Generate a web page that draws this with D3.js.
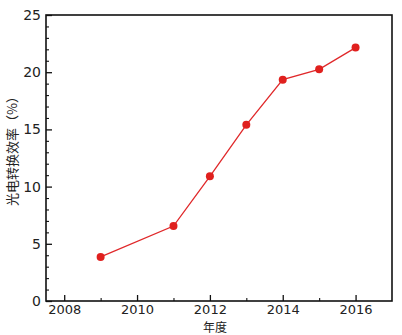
<!DOCTYPE html>
<html lang="zh">
    <head>
        <meta charset="utf-8">
        <title>光电转换效率</title>
        <script src="https://cdn.jsdelivr.net/npm/d3@7"></script>
        <style>
            body { margin: 0; background: #fff; }
        </style>
    </head>
    <body>
        <script>
            // data
            var years = [2009, 2011, 2012, 2013, 2014, 2015, 2016];
            var efficiency = [3.85, 6.55, 10.9, 15.4, 19.35, 20.25, 22.15];
            var xTicks = [2008, 2010, 2012, 2014, 2016];
            var yTicks = [0, 5, 10, 15, 20, 25];

            var w = 402, h = 335;
            // plot box edges (note: "top" is a reserved window property)
            var boxL = 46, boxR = 392, boxT = 15, boxB = 301;

            var svg = d3.select("body").append("svg")
                .attr("width", w)
                .attr("height", h);

            var x = d3.scaleLinear().domain([2007.5, 2017]).range([boxL, boxR]);
            var y = d3.scaleLinear().domain([0, 25]).range([boxB, boxT]);

            var font = "Verdana, 'DejaVu Sans', sans-serif";

            // frame
            svg.append("rect")
                .attr("x", boxL).attr("y", boxT)
                .attr("width", boxR - boxL).attr("height", boxB - boxT)
                .attr("fill", "none").attr("stroke", "#111").attr("stroke-width", 1.6);

            // x axis: majors every 2 years, minors every year, ticks inward
            var xAxis = d3.axisBottom(x).tickValues(xTicks).tickFormat(d3.format("d"))
                .tickSizeInner(-6).tickSizeOuter(0).tickPadding(4);
            var gx = svg.append("g").attr("transform", "translate(0," + boxB + ")").call(xAxis);
            gx.select(".domain").remove();
            gx.selectAll("line").attr("stroke", "#111").attr("stroke-width", 1.3);
            gx.selectAll("text").attr("font-family", font).attr("font-size", 13).attr("fill", "#222");
            var gxm = svg.append("g").attr("transform", "translate(0," + boxB + ")")
                .call(d3.axisBottom(x).tickValues(d3.range(2009, 2017, 2)).tickFormat("").tickSizeInner(-3).tickSizeOuter(0));
            gxm.select(".domain").remove();
            gxm.selectAll("line").attr("stroke", "#111").attr("stroke-width", 1.1);

            // y axis
            var yAxis = d3.axisLeft(y).tickValues(yTicks)
                .tickSizeInner(-6).tickSizeOuter(0).tickPadding(5);
            var gy = svg.append("g").attr("transform", "translate(" + boxL + ",0)").call(yAxis);
            gy.select(".domain").remove();
            gy.selectAll("line").attr("stroke", "#111").attr("stroke-width", 1.3);
            gy.selectAll("text").attr("font-family", font).attr("font-size", 14).attr("fill", "#222");
            var minorY = d3.range(1, 25).filter(function(d) { return d % 5 !== 0; });
            var gym = svg.append("g").attr("transform", "translate(" + boxL + ",0)")
                .call(d3.axisLeft(y).tickValues(minorY).tickFormat("").tickSizeInner(-3).tickSizeOuter(0));
            gym.select(".domain").remove();
            gym.selectAll("line").attr("stroke", "#111").attr("stroke-width", 1.1);

            // labels
            svg.append("text")
                .attr("x", (boxL + boxR) / 2 - 4).attr("y", 331.5)
                .attr("text-anchor", "middle")
                .attr("font-family", "'Noto Sans CJK SC', sans-serif").attr("font-size", 12).attr("fill", "#222")
                .text("年度");
            svg.append("text")
                .attr("transform", "translate(17,148) rotate(-90)")
                .attr("text-anchor", "middle")
                .attr("font-family", "'Noto Sans CJK SC', sans-serif").attr("font-size", 13).attr("fill", "#222")
                .text("光电转换效率（%）");

            // series
            var pts = years.map(function(d, i) { return [d, efficiency[i]]; });
            svg.append("path")
                .datum(pts)
                .attr("fill", "none").attr("stroke", "#e0282a").attr("stroke-width", 1.3)
                .attr("d", d3.line().x(function(d) { return x(d[0]); }).y(function(d) { return y(d[1]); }));
            svg.selectAll("circle")
                .data(pts)
                .enter()
                .append("circle")
                .attr("cx", function(d) { return x(d[0]); })
                .attr("cy", function(d) { return y(d[1]); })
                .attr("r", 4)
                .attr("fill", "#e0201e");
        </script>
    </body>
</html>
